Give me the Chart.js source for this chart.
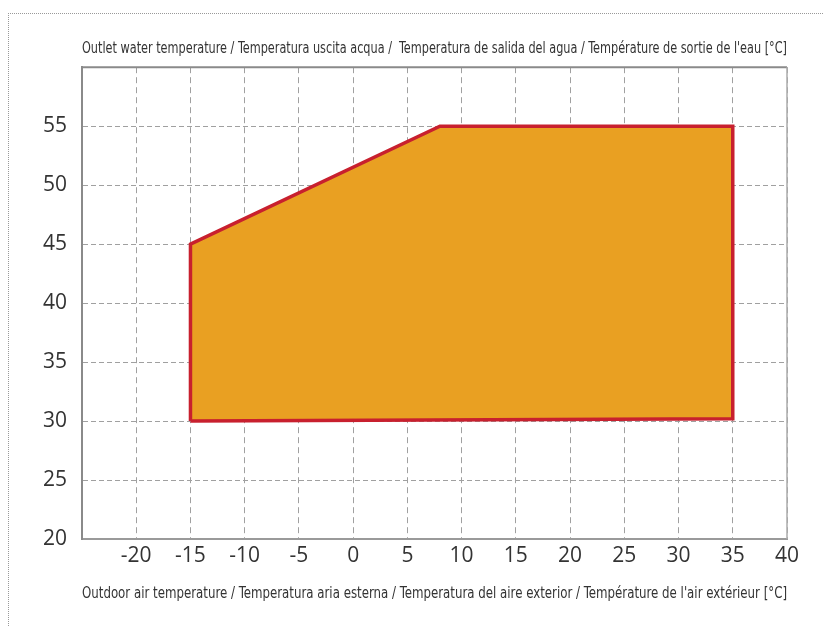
<!DOCTYPE html>
<html>
<head>
<meta charset="utf-8">
<script src="https://cdn.jsdelivr.net/npm/chart.js@4.4.1/dist/chart.umd.min.js"></script>
<style>
  html, body { margin: 0; padding: 0; background: #fff; overflow: hidden; }
  #frame { position: absolute; left: 8px; top: 13px; width: 900px; height: 700px;
           border-top: 1px dotted #999; border-left: 1px dotted #999; }
  #c { position: absolute; left: 0; top: 0; }
</style>
</head>
<body>
<div id="frame"></div>
<canvas id="c" width="823" height="627"></canvas>
<script>
// ---- data ----
const envelopeX = [-15, -15, 8, 35, 35, -15];
const envelopeY = [30, 45, 55, 55, 30.2, 30];
const xTicks = [-20, -15, -10, -5, 0, 5, 10, 15, 20, 25, 30, 35, 40];
const yTicks = [20, 25, 30, 35, 40, 45, 50, 55];
const xRange = [-25, 40];
const yRange = [20, 60];
const titleText = "Outlet water temperature / Temperatura uscita acqua /  Temperatura de salida del agua / Température de sortie de l'eau [°C]";
const xTitleText = "Outdoor air temperature / Temperatura aria esterna / Temperatura del aire exterior / Température de l'air extérieur [°C]";

const points = envelopeX.map((x, i) => ({ x: x, y: envelopeY[i] }));

const frameBorder = {
  id: 'frameBorder',
  afterDraw(chart) {
    const { ctx, chartArea: a } = chart;
    ctx.save();
    ctx.lineWidth = 2;
    ctx.strokeStyle = '#8a8a8a';
    ctx.beginPath();
    ctx.moveTo(a.left, a.top); ctx.lineTo(a.right, a.top);
    ctx.stroke();
    ctx.strokeStyle = '#ababab';
    ctx.lineWidth = 1.5;
    ctx.beginPath();
    ctx.moveTo(a.right, a.top); ctx.lineTo(a.right, a.bottom);
    ctx.stroke();
    ctx.restore();
  }
};

const condensed = "'Liberation Sans Narrow', 'DejaVu Sans Condensed', 'Roboto', sans-serif";
const tickFont = { family: "'Open Sans', sans-serif", size: 21 };

new Chart(document.getElementById('c'), {
  type: 'scatter',
  data: {
    datasets: [{
      data: points,
      showLine: true,
      fill: 'shape',
      backgroundColor: '#E9A022',
      borderColor: '#C8202E',
      borderWidth: 3.5,
      borderJoinStyle: 'miter',
      tension: 0,
      pointRadius: 0,
      pointHoverRadius: 0
    }]
  },
  options: {
    responsive: false,
    animation: false,
    devicePixelRatio: 1,
    layout: { padding: { left: 0, right: 36, top: 0, bottom: 0 } },
    plugins: {
      legend: { display: false },
      tooltip: { enabled: false },
      title: {
        display: true,
        text: titleText,
        fullSize: false,
        color: '#333',
        font: { family: condensed, size: 16, weight: 'normal' },
        padding: { top: 39, bottom: 9 }
      }
    },
    scales: {
      x: {
        type: 'linear',
        min: xRange[0], max: xRange[1],
        afterBuildTicks: s => { s.ticks = xTicks.map(v => ({ value: v })); },
        afterFit: s => { s.height = 88; },
        grid: { color: '#a0a0a0', lineWidth: 1, drawTicks: false },
        border: { display: true, color: '#9a9a9a', width: 2, dash: [6, 4] },
        ticks: { color: '#333', font: tickFont, padding: 4, maxRotation: 0, autoSkip: false },
        title: {
          display: true, text: xTitleText, color: '#333',
          font: { family: condensed, size: 16 },
          padding: { top: 0, bottom: 24 }
        }
      },
      y: {
        type: 'linear',
        min: yRange[0], max: yRange[1],
        afterBuildTicks: s => { s.ticks = yTicks.map(v => ({ value: v })); },
        afterFit: s => { s.width = 82; },
        grid: { color: '#a0a0a0', lineWidth: 1, drawTicks: false },
        border: { display: true, color: '#8a8a8a', width: 2, dash: [5, 3] },
        ticks: { color: '#333', font: tickFont, padding: 15, autoSkip: false }
      }
    }
  },
  plugins: [frameBorder]
});
</script>
</body>
</html>
